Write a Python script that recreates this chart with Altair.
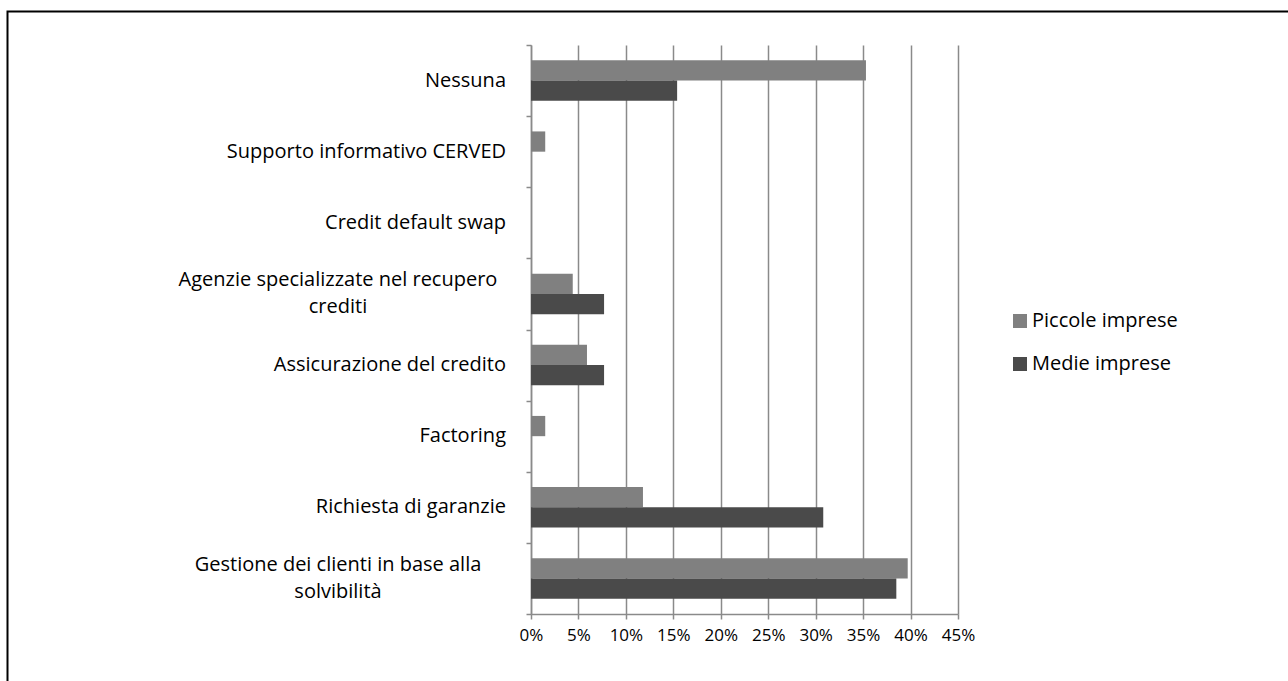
import altair as alt
import pandas as pd

# Risk-management tools, listed top to bottom ("\n" marks a label line break)
categories = [
    "Nessuna",
    "Supporto informativo CERVED",
    "Credit default swap",
    "Agenzie specializzate nel recupero\ncrediti",
    "Assicurazione del credito",
    "Factoring",
    "Richiesta di garanzie",
    "Gestione dei clienti in base alla\nsolvibilità",
]
series = ["Piccole imprese", "Medie imprese"]
colors = ["#808080", "#4a4a4a"]

# Share of firms (%) per tool
piccole = [35.3, 1.5, 0.0, 4.4, 5.9, 1.5, 11.8, 39.7]
medie = [15.4, 0.0, 0.0, 7.7, 7.7, 0.0, 30.8, 38.5]

x_ticks = [0, 0.05, 0.10, 0.15, 0.20, 0.25, 0.30, 0.35, 0.40, 0.45]

rows = []
for cat, p, m in zip(categories, piccole, medie):
    rows.append({"strumento": cat, "dimensione": series[0], "quota": p / 100})
    rows.append({"strumento": cat, "dimensione": series[1], "quota": m / 100})
df = pd.DataFrame(rows)

labels_df = pd.DataFrame(
    {"strumento": categories, "a_capo": ["\n" in c for c in categories]}
)

FONT = "Open Sans"
GRID = "#8a8a8a"
LINE_H = 27

y_enc = alt.Y(
    "strumento:N",
    sort=categories,
    scale=alt.Scale(paddingInner=0, paddingOuter=0),
    axis=alt.Axis(
        title=None,
        labels=False,
        tickBand="extent",
        domainColor=GRID,
        domainWidth=1.5,
        tickColor=GRID,
        tickWidth=1.5,
        tickSize=5,
    ),
)

bars = alt.Chart(df).mark_bar().encode(
    x=alt.X(
        "quota:Q",
        scale=alt.Scale(domain=[0, 0.45], nice=False),
        axis=alt.Axis(
            values=x_ticks,
            format=".0%",
            title=None,
            grid=True,
            gridColor=GRID,
            gridWidth=1.5,
            domainColor=GRID,
            domainWidth=1.5,
            tickColor=GRID,
            tickWidth=1.5,
            tickSize=5,
            labelFont=FONT,
            labelFontSize=17,
            labelColor="black",
            labelPadding=8,
            labelOverlap=False,
            labelFlush=False,
        ),
    ),
    y=y_enc,
    yOffset=alt.YOffset(
        "dimensione:N",
        sort=series,
        scale=alt.Scale(paddingInner=0, paddingOuter=0.755),
    ),
    color=alt.Color(
        "dimensione:N",
        sort=series,
        scale=alt.Scale(domain=series, range=colors),
        legend=alt.Legend(
            title=None,
            orient="none",
            legendX=479,
            legendY=266,
            symbolType="square",
            symbolSize=196,
            symbolStrokeWidth=0,
            labelFont=FONT,
            labelFontSize=20,
            labelColor="black",
            labelOffset=2,
            rowPadding=23,
            padding=0,
        ),
    ),
)

# Category names: one-line names flush right, wrapped names centred on their block
text_style = dict(
    font=FONT, fontSize=20, color="black", baseline="middle",
    lineBreak="\n", lineHeight=LINE_H,
)
names_single = (
    alt.Chart(labels_df)
    .transform_filter("!datum.a_capo")
    .mark_text(align="right", **text_style)
    .encode(y=alt.Y("strumento:N", sort=categories), x=alt.value(-25), text="strumento:N")
)
names_wrapped = (
    alt.Chart(labels_df)
    .transform_filter("datum.a_capo")
    .mark_text(align="center", dy=-LINE_H / 2, **text_style)
    .encode(y=alt.Y("strumento:N", sort=categories), x=alt.value(-193), text="strumento:N")
)

# Outer frame around the whole figure
frame = alt.Chart(alt.Data(values=[{}])).mark_rect(
    filled=False, stroke="black", strokeWidth=2
).encode(
    x=alt.value(-523.5),
    x2=alt.value(900),
    y=alt.value(-33.5),
    y2=alt.value(800),
)

chart = (
    alt.layer(bars, names_single, names_wrapped, frame)
    .properties(
        width=427,
        height=569,
        autosize=alt.AutoSizeParams(type="none"),
        padding={"left": 531, "top": 45, "right": 330, "bottom": 67},
        background="white",
    )
    .configure_view(stroke=None)
)

chart.save("out.html", embed_options={"renderer": "svg", "actions": False})
